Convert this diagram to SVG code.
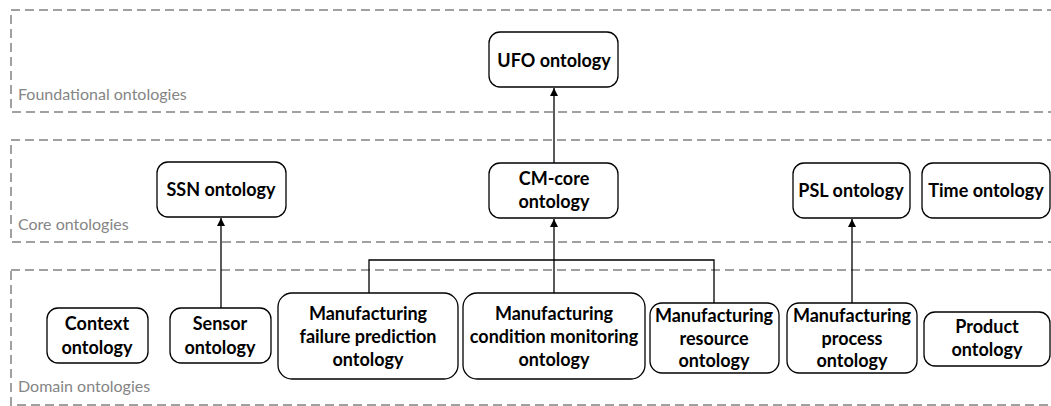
<svg xmlns="http://www.w3.org/2000/svg" width="1051" height="406" viewBox="0 0 1051 406">
<style>
.zone{fill:none;stroke:#a0a0a0;stroke-width:2;stroke-dasharray:9,5}
.zl{font-family:Lato,"Liberation Sans",sans-serif;font-size:16px;fill:#858585}
.box{fill:#fff;stroke:#000;stroke-width:1.3}
.t{font-family:Lato,"Liberation Sans",sans-serif;font-weight:bold;font-size:18px;fill:#000;text-anchor:middle}
.c{fill:none;stroke:#000;stroke-width:1.3}
</style>
<defs>
<marker id="arr" viewBox="0 0 10 10" refX="10" refY="5" markerWidth="8" markerHeight="8" markerUnits="userSpaceOnUse" orient="auto">
<path d="M0,0 L10,5 L0,10 z" fill="#000"/>
</marker>
</defs>
<g id="zones">
<rect class="zone" x="11" y="10" width="1060" height="102"/>
<text class="zl" x="18" y="100">Foundational ontologies</text>
<rect class="zone" x="11" y="140" width="1060" height="102"/>
<text class="zl" x="18" y="230">Core ontologies</text>
<rect class="zone" x="11" y="270" width="1060" height="135"/>
<text class="zl" x="18" y="392">Domain ontologies</text>
</g>
<g id="connectors">
<line class="c" x1="554" y1="163" x2="554" y2="88" marker-end="url(#arr)"/>
<line class="c" x1="221" y1="308" x2="221" y2="218" marker-end="url(#arr)"/>
<line class="c" x1="852" y1="303" x2="852" y2="219" marker-end="url(#arr)"/>
<polyline class="c" points="369,293 369,260 714,260 714,303"/>
<line class="c" x1="554" y1="293" x2="554" y2="219" marker-end="url(#arr)"/>
</g>
<g id="ufo"><rect class="box" x="489" y="32" width="129" height="55" rx="11"/><text class="t" x="554" y="67">UFO ontology</text></g>
<g id="ssn"><rect class="box" x="157" y="162" width="129" height="55" rx="11"/><text class="t" x="221" y="196">SSN ontology</text></g>
<g id="cmcore"><rect class="box" x="489" y="163" width="129" height="55" rx="11"/><text class="t" x="554" y="185">CM-core</text><text class="t" x="554" y="208">ontology</text></g>
<g id="psl"><rect class="box" x="793" y="163" width="117" height="55" rx="11"/><text class="t" x="851" y="197">PSL ontology</text></g>
<g id="time"><rect class="box" x="922" y="163" width="128" height="55" rx="11"/><text class="t" x="986" y="197">Time ontology</text></g>
<g id="context"><rect class="box" x="47" y="308" width="101" height="55" rx="11"/><text class="t" x="97" y="330">Context</text><text class="t" x="97" y="354">ontology</text></g>
<g id="sensor"><rect class="box" x="170" y="308" width="101" height="55" rx="11"/><text class="t" x="220" y="330">Sensor</text><text class="t" x="220" y="354">ontology</text></g>
<g id="mfp"><rect class="box" x="278" y="293" width="180" height="86" rx="14"/><text class="t" x="368" y="320">Manufacturing</text><text class="t" x="368" y="343">failure prediction</text><text class="t" x="368" y="366">ontology</text></g>
<g id="mcm"><rect class="box" x="463" y="293" width="182" height="86" rx="14"/><text class="t" x="554" y="320">Manufacturing</text><text class="t" x="554" y="343">condition monitoring</text><text class="t" x="554" y="366">ontology</text></g>
<g id="mr"><rect class="box" x="650" y="303" width="129" height="70" rx="12"/><text class="t" x="714" y="322">Manufacturing</text><text class="t" x="714" y="345">resource</text><text class="t" x="714" y="367">ontology</text></g>
<g id="mp"><rect class="box" x="787" y="303" width="130" height="70" rx="12"/><text class="t" x="852" y="322">Manufacturing</text><text class="t" x="852" y="345">process</text><text class="t" x="852" y="367">ontology</text></g>
<g id="product"><rect class="box" x="924" y="312" width="126" height="54" rx="11"/><text class="t" x="987" y="333">Product</text><text class="t" x="987" y="356">ontology</text></g>
</svg>
